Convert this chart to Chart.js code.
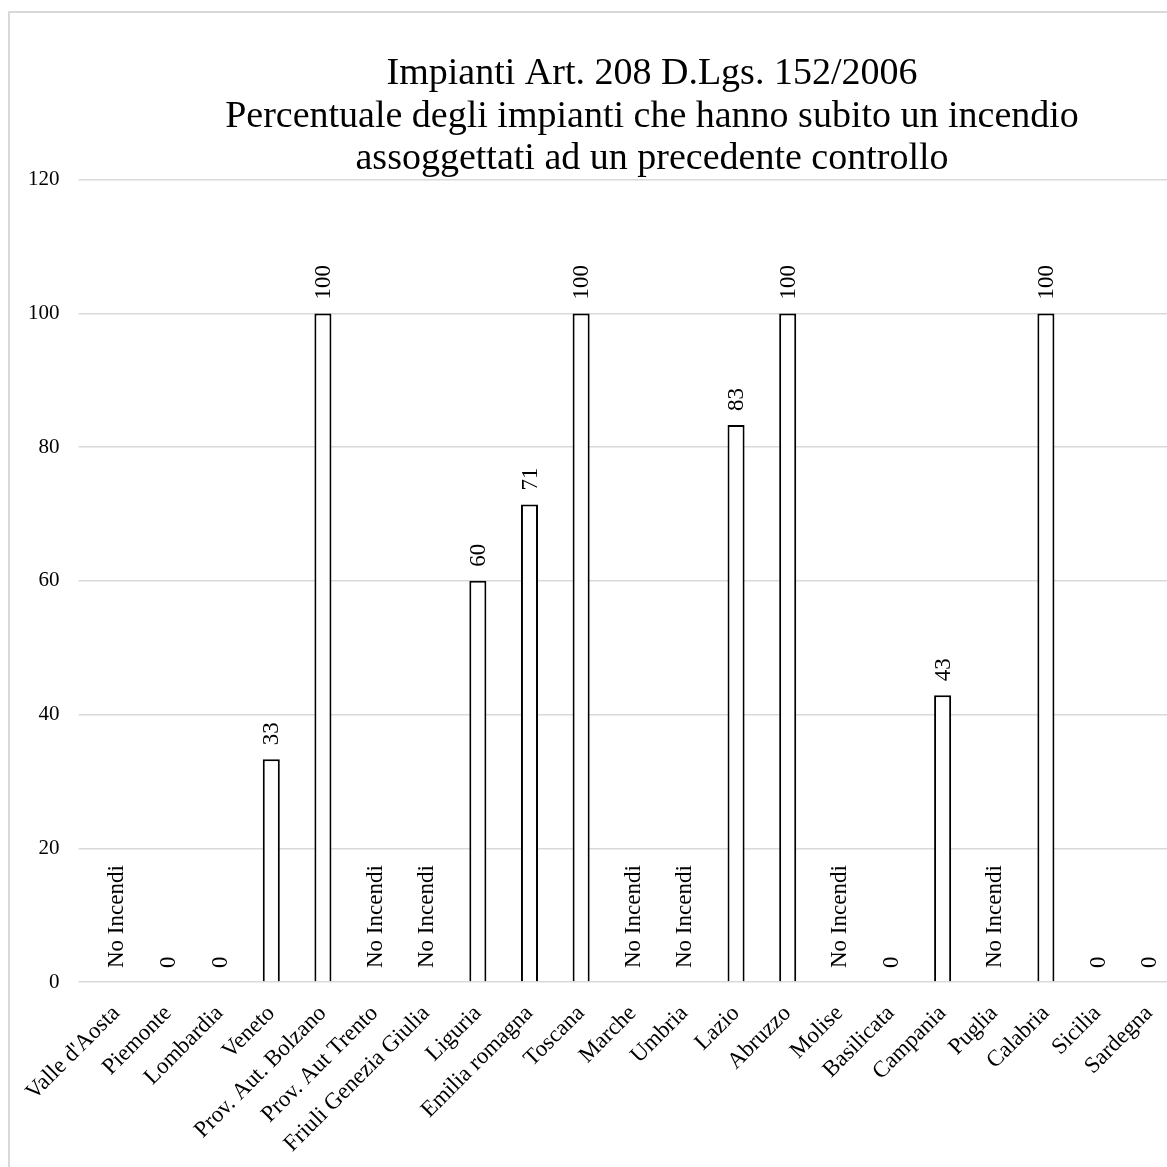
<!DOCTYPE html>
<html>
<head>
<meta charset="utf-8">
<script src="https://cdn.jsdelivr.net/npm/chart.js@4.4.1/dist/chart.umd.min.js"></script>
<style>
  html, body { margin: 0; padding: 0; background: #fff; overflow: hidden; }
  #frame { position: absolute; left: 8px; top: 11px; border: 2px solid #d9d9d9; }
  canvas { display: block; }
</style>
</head>
<body>
<div id="frame"><canvas id="myChart" width="1284" height="1169"></canvas></div>
<script>
var regioni = ["Valle d'Aosta", "Piemonte", "Lombardia", "Veneto", "Prov. Aut. Bolzano",
  "Prov. Aut Trento", "Friuli Genezia Giulia", "Liguria", "Emilia romagna", "Toscana",
  "Marche", "Umbria", "Lazio", "Abruzzo", "Molise", "Basilicata", "Campania", "Puglia",
  "Calabria", "Sicilia", "Sardegna"];
// null = nessun incendio
var percentuali = [null, 0, 0, 33.3, 100, null, null, 60, 71.4, 100, null, null, 83.3, 100,
  null, 0, 42.9, null, 100, 0, 0];
var yTicks = [0, 20, 40, 60, 80, 100, 120];
var titolo = ["Impianti Art. 208 D.Lgs. 152/2006",
  "Percentuale degli impianti che hanno subito un incendio",
  "assoggettati ad un precedente controllo"];

var serif = "'Liberation Serif', 'DejaVu Serif', serif";

// etichette sopra le barre, ruotate di 90 gradi
var barLabels = {
  id: "barLabels",
  afterDatasetsDraw: function(chart) {
    var ctx = chart.ctx;
    var x = chart.scales.x;
    var y = chart.scales.y;
    ctx.save();
    ctx.font = "23px " + serif;
    ctx.fillStyle = "#000";
    ctx.textAlign = "left";
    ctx.textBaseline = "middle";
    percentuali.forEach(function(v, i) {
      var px = x.getPixelForValue(i);
      var py = y.getPixelForValue(v === null ? 0 : v) - 14;
      var txt = v === null ? "No Incendi" : String(Math.round(v));
      ctx.save();
      ctx.translate(px + 1, py);
      ctx.rotate(-Math.PI / 2);
      ctx.fillText(txt, 0, 0);
      ctx.restore();
    });
    ctx.restore();
  }
};

var ctx = document.getElementById("myChart").getContext("2d");
var myChart = new Chart(ctx, {
  type: "bar",
  data: {
    labels: regioni,
    datasets: [{
      data: percentuali,
      backgroundColor: "#fff",
      borderColor: "#000",
      borderWidth: function(c) { return c.raw ? 2 : 0; },
      barPercentage: 0.33,
      categoryPercentage: 1
    }]
  },
  options: {
    responsive: false,
    animation: false,
    layout: { padding: 0 },
    plugins: {
      legend: { display: false },
      tooltip: { enabled: false },
      title: {
        display: true,
        text: titolo,
        color: "#000",
        font: { family: serif, size: 38, weight: "normal", lineHeight: 1.12 },
        padding: { top: 40, bottom: -1 }
      }
    },
    scales: {
      x: {
        grid: { display: false, drawTicks: false },
        border: { display: false },
        ticks: {
          color: "#000",
          font: { family: serif, size: 23 },
          maxRotation: 45,
          minRotation: 45,
          autoSkip: false,
          padding: 18
        },
        afterFit: function(s) { s.height = 200; }
      },
      y: {
        min: 0,
        max: 120,
        border: { display: false },
        grid: { color: "#d9d9d9", lineWidth: 1.5, tickLength: 12, tickColor: "#d9d9d9" },
        afterBuildTicks: function(s) { s.ticks = yTicks.map(function(v) { return { value: v }; }); },
        ticks: { color: "#000", font: { family: serif, size: 21 }, padding: 19 },
        afterFit: function(s) { s.width = 79; }
      },
      // asse vuoto a destra, serve solo a spostare l'area del grafico
      spacer: {
        type: "linear",
        position: "right",
        display: true,
        grid: { display: false },
        border: { display: false },
        ticks: { display: false },
        afterFit: function(s) { s.width = 119; }
      }
    }
  },
  plugins: [barLabels]
});
</script>
</body>
</html>
